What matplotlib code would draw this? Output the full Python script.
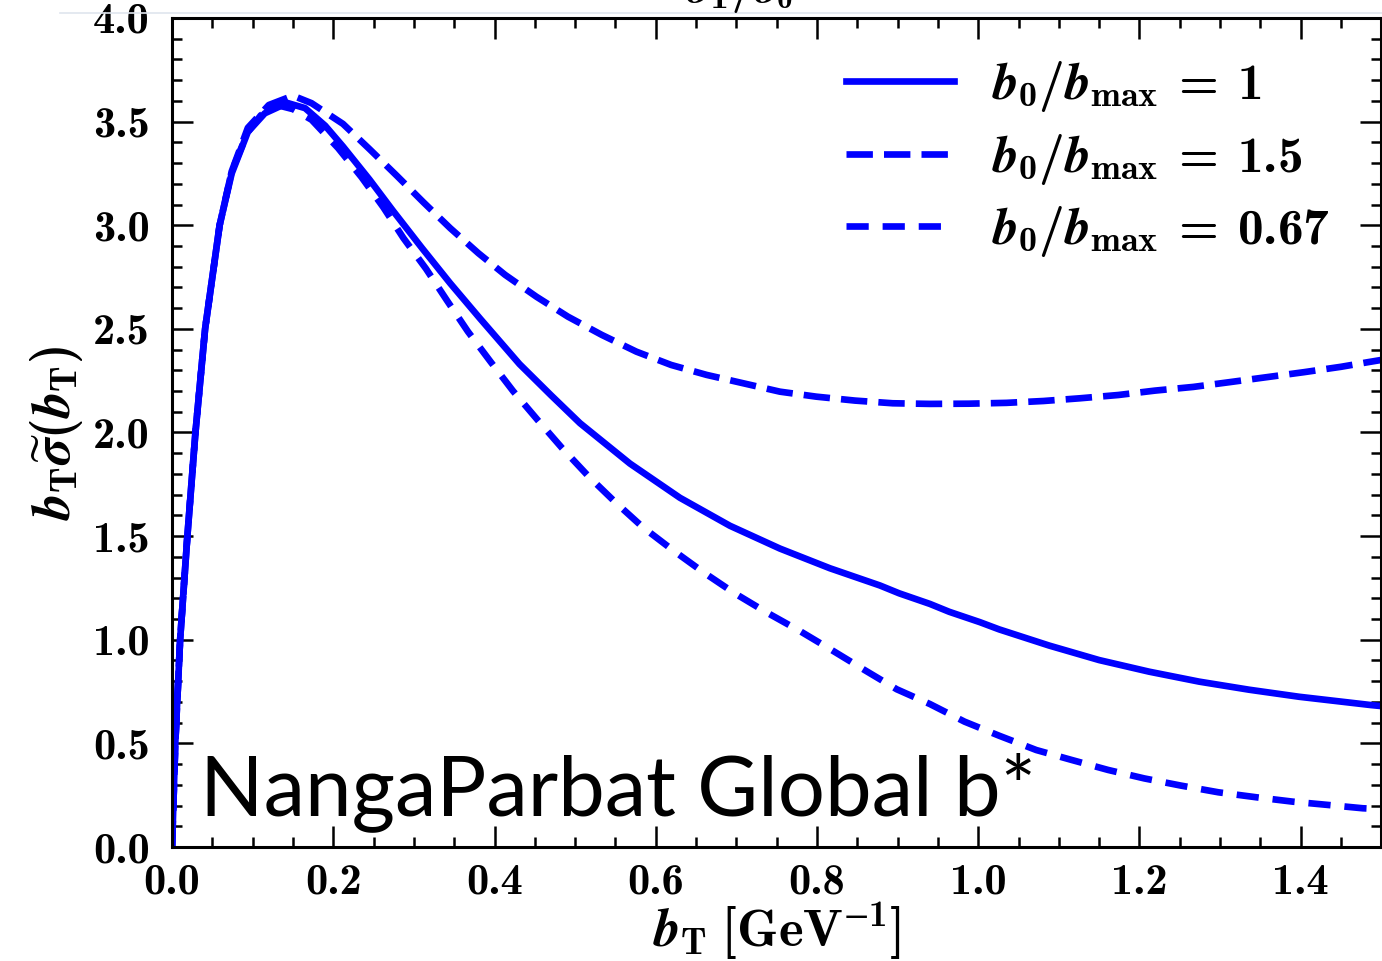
import matplotlib
matplotlib.use("Agg")
import matplotlib.pyplot as plt
from matplotlib.lines import Line2D
from matplotlib.ticker import MultipleLocator

plt.rcParams['mathtext.fontset'] = 'custom'
plt.rcParams['mathtext.rm'] = 'cmb10'
plt.rcParams['mathtext.bf'] = 'cmb10'
plt.rcParams['mathtext.it'] = 'STIXGeneral:italic:bold'
plt.rcParams['mathtext.fallback'] = 'stix'
plt.rcParams['lines.scale_dashes'] = False
plt.rcParams['axes.unicode_minus'] = False

# b0/bmax = 1
bt_1 = [0, 0.004, 0.01, 0.019, 0.029, 0.041, 0.059, 0.074, 0.094, 0.115, 0.143, 0.165,
        0.19, 0.212, 0.245, 0.274, 0.31, 0.345, 0.382, 0.431, 0.47, 0.506, 0.568, 0.63,
        0.692, 0.754, 0.816, 0.878, 0.902, 0.94, 0.964, 1.002, 1.026, 1.088, 1.15,
        1.212, 1.274, 1.336, 1.398, 1.487, 1.5]
sig_1 = [0, 0.5, 1.0, 1.5, 2.0, 2.5, 3.0, 3.25, 3.45, 3.54, 3.59, 3.565,
         3.48, 3.38, 3.22, 3.07, 2.89, 2.72, 2.55, 2.33, 2.18, 2.045, 1.85, 1.685,
         1.55, 1.44, 1.345, 1.262, 1.224, 1.173, 1.135, 1.085, 1.05, 0.972, 0.902,
         0.846, 0.798, 0.759, 0.725, 0.685, 0.68]

# b0/bmax = 1.5
bt_15 = [0, 0.004, 0.01, 0.019, 0.029, 0.041, 0.059, 0.074, 0.094, 0.12, 0.15, 0.173,
         0.212, 0.245, 0.279, 0.312, 0.345, 0.38, 0.413, 0.452, 0.491, 0.533, 0.576,
         0.619, 0.663, 0.708, 0.754, 0.799, 0.847, 0.894, 0.94, 0.988, 1.035, 1.081,
         1.126, 1.174, 1.219, 1.267, 1.312, 1.358, 1.404, 1.45, 1.483, 1.5]
sig_15 = [0, 0.5, 1.0, 1.5, 2.0, 2.5, 3.0, 3.26, 3.47, 3.58, 3.625, 3.589,
          3.489, 3.367, 3.238, 3.11, 2.986, 2.865, 2.761, 2.655, 2.559, 2.471, 2.39,
          2.326, 2.278, 2.238, 2.197, 2.173, 2.154, 2.141, 2.138, 2.139, 2.143, 2.152,
          2.165, 2.181, 2.202, 2.22, 2.243, 2.267, 2.291, 2.317, 2.339, 2.35]

# b0/bmax = 0.67
bt_067 = [0, 0.004, 0.01, 0.019, 0.029, 0.041, 0.059, 0.074, 0.094, 0.11, 0.13, 0.15,
          0.173, 0.206, 0.235, 0.262, 0.287, 0.315, 0.341, 0.367, 0.395, 0.423, 0.454,
          0.484, 0.516, 0.55, 0.584, 0.621, 0.659, 0.698, 0.737, 0.778, 0.818, 0.859,
          0.899, 0.94, 0.983, 1.026, 1.072, 1.116, 1.161, 1.206, 1.252, 1.298, 1.345,
          1.39, 1.434, 1.477, 1.5]
sig_067 = [0, 0.5, 1.0, 1.5, 2.0, 2.5, 3.0, 3.26, 3.45, 3.53, 3.58, 3.56,
           3.509, 3.372, 3.232, 3.087, 2.938, 2.79, 2.637, 2.487, 2.342, 2.2, 2.058,
           1.924, 1.791, 1.663, 1.543, 1.433, 1.326, 1.224, 1.133, 1.044, 0.951, 0.854,
           0.761, 0.69, 0.605, 0.537, 0.468, 0.42, 0.372, 0.331, 0.296, 0.264, 0.24,
           0.219, 0.203, 0.187, 0.183]

labels = [r'$b_0/b_{\mathrm{max}} \;=\; 1$', r'$b_0/b_{\mathrm{max}} \;=\; 1.5$',
          r'$b_0/b_{\mathrm{max}} \;=\; 0.67$']
xticks = [0.0, 0.2, 0.4, 0.6, 0.8, 1.0, 1.2, 1.4]
yticks = [0.0, 0.5, 1.0, 1.5, 2.0, 2.5, 3.0, 3.5, 4.0]

fig = plt.figure(figsize=(13.82, 9.61), dpi=100)
ax = fig.add_axes([0.1245, 0.1186, 0.8750, 0.8627])

lw = 4.8
ax.plot(bt_1, sig_1, color='blue', lw=lw, label=labels[0])
ax.plot(bt_15, sig_15, color='blue', lw=lw, dashes=(19, 8), label=labels[1])
ax.plot(bt_067, sig_067, color='blue', lw=lw, dashes=(16, 10), label=labels[2])

ax.set_xlim(0, 1.5)
ax.set_ylim(0, 4.0)
ax.xaxis.set_minor_locator(MultipleLocator(0.05))
ax.yaxis.set_minor_locator(MultipleLocator(0.1))
ax.set_xticks(xticks)
ax.set_xticklabels(['%.1f' % v for v in xticks])
ax.set_yticks(yticks)
ax.set_yticklabels(['%.1f' % v for v in yticks])

ax.tick_params(which='both', direction='in', top=True, right=True, width=1.8,
               labelsize=32, labelfontfamily='cmb10')
ax.tick_params(axis='x', pad=12)
ax.tick_params(axis='y', pad=16)
ax.tick_params(which='major', length=15)
ax.tick_params(which='minor', length=7.5)
for s in ax.spines.values():
    s.set_linewidth(2.2)

ax.set_xlabel(r'$b_{\mathrm{T}}\ [\mathrm{GeV}^{-1}]$', fontsize=38)
ax.set_ylabel(r'$b_{\mathrm{T}}\widetilde{\sigma}(b_{\mathrm{T}})$', fontsize=38)
ax.xaxis.set_label_coords(0.5, -0.064)
ax.yaxis.set_label_coords(-0.072, 0.5)

ax.legend(loc='upper left', bbox_to_anchor=(0.557, 0.95), frameon=False, fontsize=37,
          handlelength=2.1, handletextpad=0.75, labelspacing=0.34, borderpad=0,
          borderaxespad=0)

ax.text(0.035, 0.154, 'NangaParbat Global b*', fontsize=60, family='Lato',
        ha='left', va='baseline')

# clipped title and thin line at the top of the screenshot
fig.text(0.535, 0.998, r'$\sigma_{\mathrm{T}}/\sigma_0$', fontsize=32, ha='center',
         va='baseline')
fig.add_artist(Line2D([60 / 1382, 1.0], [1 - 13 / 961, 1 - 13 / 961],
                      transform=fig.transFigure, color='#dfe5ee', lw=1.2))

fig.savefig('out.png', dpi=100)
